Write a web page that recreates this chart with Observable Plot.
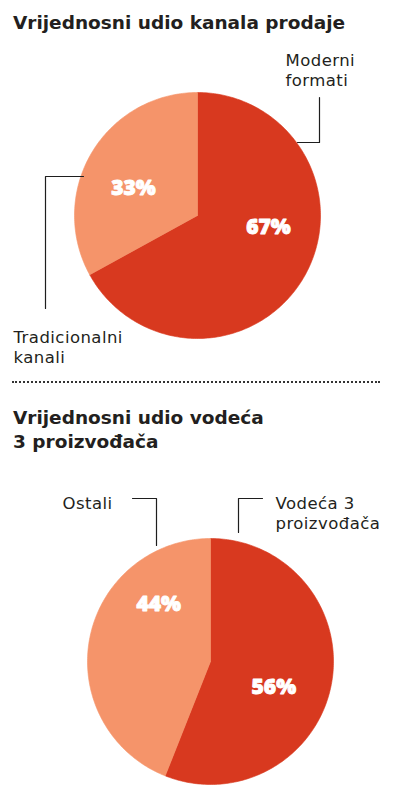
<!DOCTYPE html>
<html>
<head>
<meta charset="utf-8">
<script src="https://cdn.jsdelivr.net/npm/d3@7"></script>
<script src="https://cdn.jsdelivr.net/npm/@observablehq/plot@0.6"></script>
<style>
  html, body { margin: 0; padding: 0; background: #fff; }
  #page { position: relative; width: 394px; height: 794px; overflow: hidden; font-family: "DejaVu Sans", sans-serif; color: #231f20; }
  .title { position: absolute; left: 13px; font-family: "DejaVu Sans", sans-serif; font-weight: 700; font-size: 18.5px; letter-spacing: 0px; line-height: 24px; color: #231f20; white-space: nowrap; }
  .sep { position: absolute; left: 12px; width: 368px; top: 381px; border-top: 2px dotted #333; }
  .chart { position: absolute; left: 0; }
</style>
</head>
<body>
<div id="page">
  <div class="title" id="t1" style="top:11px">Vrijednosni udio kanala prodaje</div>
  <div class="sep"></div>
  <div class="title" id="t2" style="top:406px">Vrijednosni udio vodeća</div>
  <div class="title" id="t3" style="top:430px">3 proizvođača</div>
  <div class="chart" id="c1" style="top:40px"></div>
  <div class="chart" id="c2" style="top:460px"></div>
</div>
<script>
// ---- data ----
const channelNames = ["Moderni\nformati", "Tradicionalni\nkanali"];
const channelShares = [67, 33];
const producerNames = ["Vodeća 3\nproizvođača", "Ostali"];
const producerShares = [56, 44];

// ---- styles / layout ----
const sliceColors = ["#d8391f", "#f5946a"];
const W = 394;
const LINE_GAP = 20.5;

const layouts = [
  {
    el: "#c1", top: 40, height: 335, cx: 197, cy: 215, r: 123,
    names: channelNames, shares: channelShares,
    // percent label placement: angle (deg clockwise from top), radius fraction
    pct: [{a: 99.6, f: 0.585}, {a: -67, f: 0.565}],
    name: [{x: 285, y: 60}, {x: 13, y: 337}],
    leaders: [
      [[319, 97], [319, 142], [297, 142]],
      [[83, 176], [45, 176], [45, 308]]
    ]
  },
  {
    el: "#c2", top: 460, height: 334, cx: 210, cy: 661, r: 123,
    names: producerNames, shares: producerShares,
    pct: [{a: 112, f: 0.555}, {a: -42, f: 0.63}],
    name: [{x: 275, y: 503}, {x: 62, y: 503}],
    leaders: [
      [[262, 498], [238, 498], [238, 532]],
      [[132, 498], [156, 498], [156, 545]]
    ]
  }
];

function slicePolygons(shares, cx, cy, r) {
  const total = d3.sum(shares);
  let acc = 0;
  return shares.map((v, i) => {
    const a0 = acc / total * 2 * Math.PI;
    acc += v;
    const a1 = acc / total * 2 * Math.PI;
    const n = Math.max(2, Math.ceil((a1 - a0) / (Math.PI / 180)));
    const pts = [{x: cx, y: cy}];
    for (let k = 0; k <= n; k++) {
      const a = a0 + (a1 - a0) * k / n;
      pts.push({x: cx + r * Math.sin(a), y: cy - r * Math.cos(a)});
    }
    pts.push({x: cx, y: cy});
    return pts;
  });
}

for (const L of layouts) {
  const polys = slicePolygons(L.shares, L.cx, L.cy, L.r);
  const pctData = L.shares.map((v, i) => {
    const a = L.pct[i].a * Math.PI / 180;
    return {
      label: v + "%",
      x: L.cx + L.r * L.pct[i].f * Math.sin(a),
      y: L.cy - L.r * L.pct[i].f * Math.cos(a)
    };
  });
  const nameData = L.names.flatMap((n, i) =>
    n.split("\n").map((line, j) => ({label: line, x: L.name[i].x, y: L.name[i].y + j * LINE_GAP})));
  const leaderData = L.leaders.flatMap((pts, i) => pts.map(([x, y]) => ({i, x, y})));

  const chart = Plot.plot({
    width: W,
    height: L.height,
    margin: 0,
    x: {domain: [0, W], range: [0, W], axis: null},
    y: {domain: [L.top, L.top + L.height], range: [0, L.height], axis: null},
    style: {background: "transparent", overflow: "visible"},
    marks: [
      ...polys.map((p, i) => Plot.line(p, {x: "x", y: "y", fill: sliceColors[i], stroke: sliceColors[i], strokeWidth: 0.6, curve: "linear"})),
      Plot.line(leaderData, {x: "x", y: "y", z: "i", stroke: "#1e1e1e", strokeWidth: 1.2}),
      Plot.text(pctData, {x: "x", y: "y", text: "label", fill: "white", stroke: "white", strokeWidth: 0.9, fontSize: 21, fontWeight: 900, fontFamily: "'Open Sans', sans-serif", textAnchor: "middle", lineAnchor: "middle"}),
      Plot.text(nameData, {x: "x", y: "y", text: "label", textAnchor: "start", lineAnchor: "middle", fill: "#231f20", fontSize: 16.5, fontFamily: "'DejaVu Sans', sans-serif"})
    ]
  });
  // widen the category labels slightly (letter spacing)
  chart.querySelectorAll('g[fill="#231f20"]').forEach(g => g.setAttribute("letter-spacing", "0.45"));
  document.querySelector(L.el).appendChild(chart);
}
</script>
</body>
</html>
